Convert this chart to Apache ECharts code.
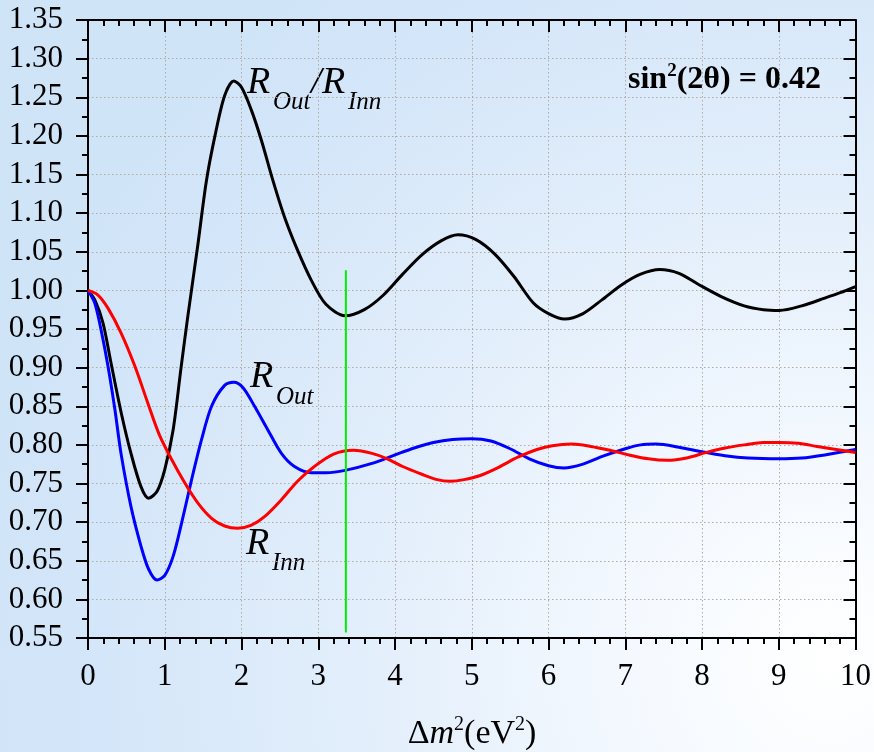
<!DOCTYPE html>
<html>
<head>
<meta charset="utf-8">
<script src="https://cdn.jsdelivr.net/npm/echarts@6/dist/echarts.min.js"></script>
<style>
html,body{margin:0;padding:0;}
#chart{width:874px;height:752px;}
</style>
</head>
<body>
<div id="chart"></div>
<script>
// ---- data ----
const ratioX = [0,0.087,0.195,0.30,0.434,0.56,0.69,0.79,0.90,1.0,1.11,1.21,1.30,1.43,1.54,1.65,1.78,1.90,2.0,2.13,2.26,2.41,2.56,2.73,2.91,3.1,3.35,3.6,3.85,4.1,4.35,4.6,4.82,5.05,5.3,5.55,5.8,6.0,6.21,6.45,6.7,6.95,7.2,7.45,7.7,7.95,8.25,8.55,8.8,9.01,9.3,9.6,9.8,10.0];
const ratioY = [1.0,0.988,0.958,0.906,0.841,0.789,0.746,0.731,0.740,0.768,0.820,0.898,0.966,1.058,1.140,1.198,1.252,1.271,1.263,1.233,1.194,1.142,1.095,1.052,1.013,0.982,0.967,0.975,0.994,1.021,1.046,1.064,1.072,1.066,1.047,1.018,0.984,0.970,0.963,0.970,0.988,1.007,1.021,1.027,1.022,1.008,0.992,0.980,0.975,0.974,0.980,0.990,0.997,1.005];
const outX = [0,0.087,0.17,0.26,0.35,0.43,0.56,0.69,0.79,0.90,1.0,1.11,1.22,1.35,1.48,1.61,1.78,1.90,2.02,2.17,2.34,2.52,2.69,2.91,3.1,3.35,3.7,4.0,4.25,4.5,4.75,5.0,5.25,5.5,5.75,6.0,6.2,6.45,6.7,7.0,7.2,7.4,7.7,8.0,8.3,8.6,9.0,9.3,9.6,10.0];
const outY = [1.0,0.984,0.949,0.902,0.846,0.789,0.720,0.669,0.639,0.625,0.631,0.656,0.699,0.755,0.807,0.850,0.877,0.881,0.874,0.850,0.820,0.789,0.772,0.764,0.764,0.767,0.776,0.787,0.796,0.803,0.807,0.808,0.805,0.795,0.782,0.773,0.770,0.775,0.785,0.795,0.800,0.801,0.797,0.791,0.786,0.783,0.782,0.783,0.787,0.794];
const innX = [0,0.13,0.26,0.43,0.61,0.78,0.93,1.09,1.26,1.43,1.61,1.78,1.95,2.13,2.30,2.52,2.73,2.95,3.2,3.46,3.7,3.9,4.1,4.35,4.55,4.72,4.9,5.1,5.35,5.6,5.85,6.05,6.3,6.55,6.8,7.05,7.3,7.55,7.8,8.05,8.3,8.55,8.8,9.0,9.25,9.5,9.75,10.0];
const innY = [1.0,0.994,0.977,0.945,0.902,0.854,0.813,0.781,0.751,0.725,0.705,0.695,0.692,0.696,0.707,0.729,0.753,0.772,0.788,0.793,0.789,0.782,0.772,0.762,0.755,0.753,0.755,0.760,0.771,0.784,0.794,0.799,0.801,0.798,0.793,0.787,0.782,0.780,0.783,0.790,0.796,0.800,0.803,0.803,0.802,0.798,0.794,0.790];
const markerX = [3.36, 3.36];
const markerY = [0.557, 1.026];

const pairs = (xs, ys) => xs.map((x, i) => [x, ys[i]]);

const FONT = 'Liberation Serif';
const chart = echarts.init(document.getElementById('chart'), null, {renderer: 'canvas'});

const gridLine = {show: true, lineStyle: {color: '#b3aba3', width: 1, type: [1.5, 2.5]}};

const option = {
  animation: false,
  backgroundColor: {
    type: 'radial', x: 0.95, y: 0.88, r: 1.15,
    colorStops: [
      {offset: 0, color: '#ffffff'},
      {offset: 0.2, color: '#f6faff'},
      {offset: 0.55, color: '#e2eefb'},
      {offset: 0.85, color: '#d4e6f9'},
      {offset: 1, color: '#d0e4f8'}
    ]
  },
  grid: {left: 88, right: 18, top: 20, bottom: 114},
  xAxis: [
    {
      type: 'value', min: 0, max: 10, interval: 1, position: 'bottom',
      axisLine: {show: true, onZero: false, lineStyle: {color: '#000', width: 2}},
      axisTick: {show: true, length: 12, lineStyle: {color: '#000', width: 2}},
      minorTick: {show: true, splitNumber: 5, length: 6, lineStyle: {color: '#000', width: 2}},
      axisLabel: {fontFamily: FONT, fontSize: 31, color: '#000', margin: 23},
      splitLine: gridLine
    },
    {
      type: 'value', min: 0, max: 10, interval: 1, position: 'top',
      axisLine: {show: true, onZero: false, lineStyle: {color: '#000', width: 2}},
      axisTick: {show: true, inside: true, length: 12, lineStyle: {color: '#000', width: 2}},
      minorTick: {show: true, splitNumber: 5, length: 6, lineStyle: {color: '#000', width: 2}},
      axisLabel: {show: false},
      splitLine: {show: false}
    }
  ],
  yAxis: [
    {
      type: 'value', min: 0.55, max: 1.35, interval: 0.05, position: 'left',
      axisLine: {show: true, onZero: false, lineStyle: {color: '#000', width: 2}},
      axisTick: {show: true, length: 12, lineStyle: {color: '#000', width: 2}},
      minorTick: {show: true, splitNumber: 2, length: 6, lineStyle: {color: '#000', width: 2}},
      axisLabel: {fontFamily: FONT, fontSize: 31, color: '#000', margin: 25, formatter: v => v.toFixed(2)},
      splitLine: gridLine
    },
    {
      type: 'value', min: 0.55, max: 1.35, interval: 0.05, position: 'right',
      axisLine: {show: true, onZero: false, lineStyle: {color: '#000', width: 2}},
      axisTick: {show: true, inside: true, length: 12, lineStyle: {color: '#000', width: 2}},
      minorTick: {show: true, splitNumber: 2, length: 6, lineStyle: {color: '#000', width: 2}},
      axisLabel: {show: false},
      splitLine: {show: false}
    }
  ],
  series: [
    {name: 'R_Out/R_Inn', type: 'line', data: pairs(ratioX, ratioY), showSymbol: false, smooth: 0.3,
     lineStyle: {color: '#000000', width: 3}, z: 3},
    {name: 'R_Out', type: 'line', data: pairs(outX, outY), showSymbol: false, smooth: 0.3,
     lineStyle: {color: '#0000ff', width: 3}, z: 3},
    {name: 'R_Inn', type: 'line', data: pairs(innX, innY), showSymbol: false, smooth: 0.3,
     lineStyle: {color: '#ff0000', width: 3}, z: 3},
    {name: 'marker', type: 'line', data: pairs(markerX, markerY), showSymbol: false,
     lineStyle: {color: '#00ee00', width: 2}, z: 4}
  ],
  graphic: [
    // R_Out / R_Inn label
    {type: 'text', x: 247, y: 83, style: {text: 'R', font: 'italic 38px "Liberation Serif"', fill: '#000', verticalAlign: 'middle'}},
    {type: 'text', x: 273, y: 102, style: {text: 'Out', font: 'italic 25px "Liberation Serif"', fill: '#000', verticalAlign: 'middle'}},
    {type: 'text', x: 311, y: 83, style: {text: '/', font: 'italic 38px "Liberation Serif"', fill: '#000', verticalAlign: 'middle'}},
    {type: 'text', x: 322, y: 83, style: {text: 'R', font: 'italic 38px "Liberation Serif"', fill: '#000', verticalAlign: 'middle'}},
    {type: 'text', x: 348, y: 102, style: {text: 'Inn', font: 'italic 25px "Liberation Serif"', fill: '#000', verticalAlign: 'middle'}},
    // R_Out label
    {type: 'text', x: 250, y: 377, style: {text: 'R', font: 'italic 38px "Liberation Serif"', fill: '#000', verticalAlign: 'middle'}},
    {type: 'text', x: 276, y: 397, style: {text: 'Out', font: 'italic 25px "Liberation Serif"', fill: '#000', verticalAlign: 'middle'}},
    // R_Inn label
    {type: 'text', x: 246, y: 544, style: {text: 'R', font: 'italic 38px "Liberation Serif"', fill: '#000', verticalAlign: 'middle'}},
    {type: 'text', x: 272, y: 563, style: {text: 'Inn', font: 'italic 25px "Liberation Serif"', fill: '#000', verticalAlign: 'middle'}},
    // sin^2(2θ) = 0.42
    {type: 'text', x: 628, y: 80, style: {
      text: '{a|sin}{s|2}{a|(2θ) = 0.42}', verticalAlign: 'middle',
      rich: {
        a: {fontFamily: FONT, fontWeight: 'bold', fontSize: 32, lineHeight: 36, verticalAlign: 'middle', fill: '#000'},
        s: {fontFamily: FONT, fontWeight: 'bold', fontSize: 19, lineHeight: 19, verticalAlign: 'top', fill: '#000'}
      }}},
    // x-axis title
    {type: 'text', x: 472, y: 734, style: {
      text: '{a|Δ}{i|m}{s|2}{a|(eV}{s|2}{a|)}', align: 'center', verticalAlign: 'middle',
      rich: {
        a: {fontFamily: FONT, fontSize: 34, lineHeight: 38, verticalAlign: 'middle', fill: '#000'},
        i: {fontFamily: FONT, fontStyle: 'italic', fontSize: 34, lineHeight: 38, verticalAlign: 'middle', fill: '#000'},
        s: {fontFamily: FONT, fontSize: 20, lineHeight: 20, verticalAlign: 'top', fill: '#000'}
      }}}
  ]
};
chart.setOption(option);
</script>
</body>
</html>
